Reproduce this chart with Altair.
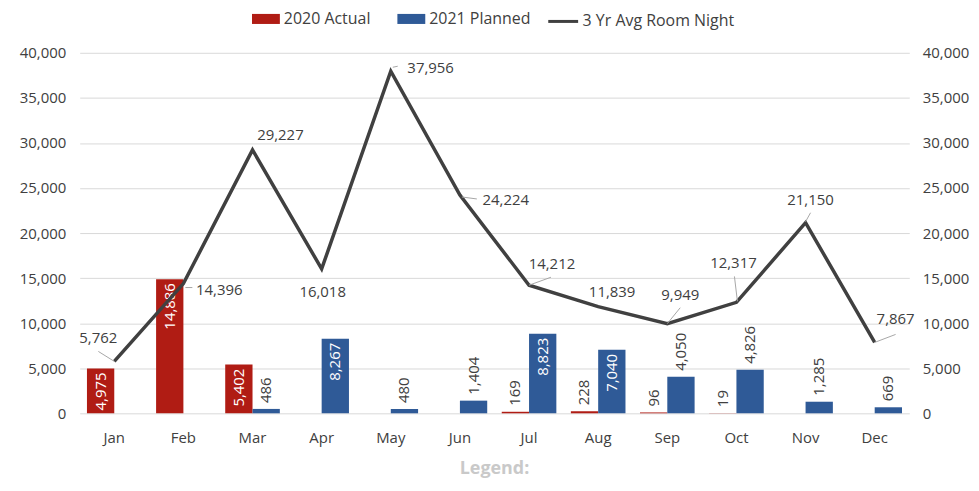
import altair as alt
import pandas as pd

# ---- data ----
months = ["Jan", "Feb", "Mar", "Apr", "May", "Jun", "Jul", "Aug", "Sep", "Oct", "Nov", "Dec"]
actual_2020 = [4975, 14886, 5402, None, None, None, 169, 228, 96, 19, None, None]
planned_2021 = [None, None, 486, 8267, 480, 1404, 8823, 7040, 4050, 4826, 1285, 669]
avg_3yr = [5762, 14396, 29227, 16018, 37956, 24224, 14212, 11839, 9949, 12317, 21150, 7867]
series_names = ["2020 Actual", "2021 Planned", "3 Yr Avg Room Night"]

# ---- styling ----
colors = ["#B01C14", "#2F5A97", "#404040"]
FONT = "Open Sans"
FS = 15
TXT = "#404040"
INSIDE_MIN = 4900  # bars tall enough to hold their label inside

# label placement for the line labels (pixel offsets from the point)
line_label_offsets = {
    "Jan": (-16, -23), "Feb": (36, 6), "Mar": (28, -15), "Apr": (1, 23),
    "May": (40, -3), "Jun": (46, 5), "Jul": (23, -21), "Aug": (14, -15),
    "Sep": (13, -29), "Oct": (-3, -39), "Nov": (5, -23), "Dec": (21, -23),
}
# leader lines (custom symbol paths, 1 unit = 30 px)
leaders = {
    "Jan": "M0,0L-0.533,-0.333",
    "Feb": "M0.067,0.133L0.3,0.133",
    "May": "M0.067,-0.133L0.233,-0.167",
    "Jun": "M0.067,0.067L0.567,0.133",
    "Jul": "M0,0L0.733,-0.267",
    "Sep": "M0,0L0.433,-0.533",
    "Oct": "M0.033,-0.033L-0.067,-0.867",
    "Nov": "M0,-0.033L0.167,-0.333",
    "Dec": "M0,0L0.7,-0.267",
}

rows = []
for m, a, p in zip(months, actual_2020, planned_2021):
    rows.append({"month": m, "series": series_names[0], "value": a})
    rows.append({"month": m, "series": series_names[1], "value": p})
bars_df = pd.DataFrame(rows).dropna()
bars_df["inside"] = bars_df["value"] >= INSIDE_MIN

line_df = pd.DataFrame({"month": months, "value": avg_3yr, "series": series_names[2]})

y_scale = alt.Scale(domain=[0, 40000], nice=False)
y_ticks = list(range(0, 40001, 5000))

x_enc = alt.X(
    "month:N", sort=months, title=None,
    scale=alt.Scale(paddingInner=0.21, paddingOuter=0.105),
    axis=alt.Axis(domain=False, ticks=False, labelPadding=17, labelAngle=0,
                  labelFont=FONT, labelFontSize=FS, labelColor=TXT, grid=False),
)
xoff = alt.XOffset("series:N", scale=alt.Scale(domain=series_names[:2], paddingInner=0, paddingOuter=0))

bar_legend = alt.Legend(
    title=None, orient="none", direction="horizontal", legendX=173, legendY=-48,
    padding=0, symbolType="M-1,-0.36H1V0.36H-1Z", symbolSize=784, symbolStrokeWidth=0,
    symbolOpacity=1, columnPadding=27, labelOffset=4,
    labelFont=FONT, labelFontSize=16, labelColor=TXT,
)
line_legend = alt.Legend(
    title=None, orient="none", direction="horizontal", legendX=469, legendY=-48,
    padding=0, symbolType="M-1,0H1", symbolSize=900, symbolStrokeWidth=3,
    symbolOpacity=1, labelOffset=3,
    labelFont=FONT, labelFontSize=16, labelColor=TXT,
)

bars = alt.Chart(bars_df).mark_bar().encode(
    x=x_enc, xOffset=xoff,
    y=alt.Y("value:Q", scale=y_scale, title=None,
            axis=alt.Axis(orient="left", format=",.0f", values=y_ticks,
                          domain=False, ticks=False, labelPadding=14, gridColor="#d9d9d9",
                          labelFont=FONT, labelFontSize=FS, labelColor=TXT)),
    fill=alt.Fill("series:N", scale=alt.Scale(domain=series_names[:2], range=colors[:2]),
                  legend=bar_legend),
)

lbl_in = alt.Chart(bars_df).transform_filter("datum.inside").mark_text(
    angle=270, align="right", baseline="middle", dx=-4, color="white", font=FONT, fontSize=FS
).encode(x=x_enc, xOffset=xoff, y=alt.Y("value:Q", scale=y_scale, axis=None),
         text=alt.Text("value:Q", format=",.0f"))

lbl_out = alt.Chart(bars_df).transform_filter("!datum.inside").mark_text(
    angle=270, align="left", baseline="middle", dx=6, color=TXT, font=FONT, fontSize=FS
).encode(x=x_enc, xOffset=xoff, y=alt.Y("value:Q", scale=y_scale, axis=None),
         text=alt.Text("value:Q", format=",.0f"))

line = alt.Chart(line_df).mark_line(strokeWidth=3.5).encode(
    x=x_enc,
    y=alt.Y("value:Q", scale=y_scale, title=None,
            axis=alt.Axis(orient="right", format=",.0f", values=y_ticks,
                          domain=False, ticks=False, grid=False, labelPadding=13,
                          labelFont=FONT, labelFontSize=FS, labelColor=TXT)),
    stroke=alt.Stroke("series:N", scale=alt.Scale(domain=[series_names[2]], range=[colors[2]]),
                      legend=line_legend),
)

layers = [bars, lbl_in, lbl_out, line]
for m in months:
    dx, dy = line_label_offsets[m]
    base = alt.Chart(line_df).transform_filter(alt.datum.month == m)
    if m in leaders:
        layers.append(base.mark_point(shape=leaders[m], size=3600, filled=False, opacity=1,
                                      strokeWidth=1, color="#a6a6a6").encode(
            x=x_enc, y=alt.Y("value:Q", scale=y_scale, axis=None)))
    layers.append(base.mark_text(dx=dx, dy=dy, align="center", baseline="middle",
                                 font=FONT, fontSize=FS, color=TXT).encode(
        x=x_enc, y=alt.Y("value:Q", scale=y_scale, axis=None),
        text=alt.Text("value:Q", format=",.0f")))

chart = alt.layer(*layers).resolve_axis(y="independent").properties(
    width=833, height=362,
    autosize=alt.AutoSizeParams(type="none"),
    padding={"left": 72, "top": 44, "right": 62, "bottom": 69},
    title=alt.TitleParams("Legend:", orient="bottom", anchor="middle", font=FONT,
                          fontSize=18, fontWeight="bold", color="#c9c9c9", offset=15),
).configure_view(stroke=None)

chart.save("out.html", embed_options={"renderer": "svg", "actions": False})
